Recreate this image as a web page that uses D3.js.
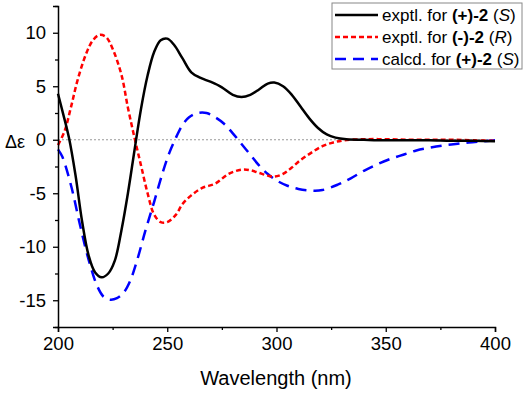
<!DOCTYPE html>
<html>
<head>
<meta charset="utf-8">
<script src="https://cdn.jsdelivr.net/npm/d3@7"></script>
<style>
  body { margin: 0; background: #fff; }
  text { font-family: Arial, "Liberation Sans", sans-serif; }
</style>
</head>
<body>
<svg id="chart" width="529" height="394"></svg>
<script>
// wavelength (nm) / delta epsilon
const exptPlusW = [200,202,205,208,211,214,217,220,223,226,229,232,235,238,241,244,247,250,253,257,261,265,270,275,280,284,288,292,296,299,303,307,311,315,319,323,327,332,340,350,360,370,380,390,400];
const exptPlusV = [4.3,2.7,0.2,-3.3,-7.6,-10.8,-12.4,-12.85,-12.5,-11.3,-8.5,-5.0,-1.0,2.9,6.0,8.2,9.3,9.45,8.9,7.6,6.3,5.8,5.4,4.9,4.2,4.0,4.2,4.7,5.25,5.35,5.0,4.2,3.1,2.0,1.1,0.5,0.2,0.05,0,-0.05,-0.05,-0.05,-0.1,-0.1,-0.15];

const exptMinusW = [200,203,206,209,213,216,219,222,225,229,232,235,238,241,244,247,250,254,257,261,266,272,278,284,288,292,296,299,303,307,311,316,321,326,331,340,350,360,370,380,390,400];
const exptMinusV = [-0.5,0.8,3.1,5.6,8.1,9.3,9.8,9.6,8.5,6.1,3.0,0.2,-2.4,-5.0,-7.0,-7.7,-7.7,-7.0,-6.0,-5.2,-4.5,-4.1,-3.2,-2.8,-2.85,-3.1,-3.35,-3.45,-3.2,-2.6,-1.9,-1.2,-0.6,-0.25,-0.05,0.05,0.05,0,0,0,-0.05,-0.1];

const calcdW = [200,202,206,210,214,218,221,224,227,230,233,236,240,244,248,251,254,257,260,264,268,272,276,280,284,288,292,296,300,305,310,316,321,328,334,340,346,352,358,364,370,376,382,388,394,400];
const calcdV = [-0.9,-1.6,-4.3,-7.9,-11.2,-13.7,-14.7,-14.95,-14.8,-14.3,-13.2,-11.4,-8.5,-5.8,-3.0,-1.2,0.2,1.4,2.1,2.5,2.5,2.1,1.5,0.6,-0.4,-1.4,-2.4,-3.2,-3.8,-4.3,-4.6,-4.75,-4.7,-4.2,-3.6,-2.9,-2.3,-1.8,-1.4,-1.0,-0.75,-0.55,-0.4,-0.25,-0.15,-0.05];

const xTicks = [200, 250, 300, 350, 400];
const xMinor = [225, 275, 325, 375];
const yTicks = [10, 5, 0, -5, -10, -15];
const yMinor = [12.5, 7.5, 2.5, -2.5, -7.5, -12.5, -17.5];

const svg = d3.select("#chart");
const x = d3.scaleLinear().domain([200, 400]).range([58, 495]);
const y = d3.scaleLinear().domain([-17.5, 12.5]).range([327, 6]);

// zero line
svg.append("line")
  .attr("x1", x(200)).attr("x2", x(400))
  .attr("y1", y(0)).attr("y2", y(0))
  .attr("stroke", "#999").attr("stroke-width", 1)
  .attr("stroke-dasharray", "2,2");

const line = d3.line()
  .x(d => x(d[0]))
  .y(d => y(d[1]))
  .curve(d3.curveCatmullRom);

const series = [
  {w: calcdW, v: calcdV, color: "#0000ff", dash: "11,7"},
  {w: exptMinusW, v: exptMinusV, color: "#ff0000", dash: "5,3"},
  {w: exptPlusW, v: exptPlusV, color: "#000", dash: null}
];

series.forEach(s => {
  svg.append("path")
    .datum(s.w.map((w, i) => [w, s.v[i]]))
    .attr("d", line)
    .attr("fill", "none")
    .attr("stroke", s.color)
    .attr("stroke-width", 2.5)
    .attr("stroke-dasharray", s.dash);
});

// axes
svg.append("g").attr("transform", `translate(0,${y(-17.5)})`)
  .call(d3.axisBottom(x).tickValues(xTicks).tickSize(5).tickPadding(5));
svg.append("g").attr("transform", `translate(0,${y(-17.5)})`)
  .call(d3.axisBottom(x).tickValues(xMinor).tickSize(3).tickFormat(""))
  .select(".domain").remove();

const yAxis = svg.append("g").attr("transform", `translate(${x(200)},0)`)
  .call(d3.axisLeft(y).tickValues(yTicks).tickSize(5).tickPadding(7));
svg.append("g").attr("transform", `translate(${x(200)},0)`)
  .call(d3.axisLeft(y).tickValues(yMinor).tickSize(3).tickFormat(""))
  .select(".domain").remove();

svg.selectAll(".domain").attr("stroke-width", 1.5);
svg.selectAll(".tick line").attr("stroke-width", 1.3);
svg.selectAll(".tick text")
  .style("font-family", "Arial, 'Liberation Sans', sans-serif")
  .style("font-size", "18.5px").attr("fill", "#000");
yAxis.selectAll(".tick text").text(d => d < 0 ? "-" + Math.abs(d) : d);

svg.append("text")
  .attr("x", 276).attr("y", 385)
  .attr("text-anchor", "middle")
  .style("font-size", "20px")
  .text("Wavelength (nm)");

svg.append("text")
  .attr("x", 5).attr("y", 148)
  .style("font-size", "18px")
  .text("Δε");

// legend
const leg = svg.append("g");
leg.append("rect")
  .attr("x", 332).attr("y", 3).attr("width", 190).attr("height", 66)
  .attr("fill", "#fff").attr("stroke", "#888").attr("stroke-width", 1);

const legendRows = [
  {color: "#000", dash: null, pre: "exptl. for ", bold: "(+)-2", conf: "S"},
  {color: "#ff0000", dash: "5,3", pre: "exptl. for ", bold: "(-)-2", conf: "R"},
  {color: "#0000ff", dash: "11,7", pre: "calcd. for ", bold: "(+)-2", conf: "S"}
];

legendRows.forEach((r, i) => {
  const cy = 15 + i * 22;
  leg.append("line")
    .attr("x1", 335).attr("x2", 378)
    .attr("y1", cy).attr("y2", cy)
    .attr("stroke", r.color).attr("stroke-width", 2.5)
    .attr("stroke-dasharray", r.dash);
  const t = leg.append("text")
    .attr("x", 382).attr("y", cy + 6)
    .style("font-size", "17px");
  t.append("tspan").text(r.pre);
  t.append("tspan").style("font-weight", "bold").text(r.bold);
  t.append("tspan").text(" (");
  t.append("tspan").style("font-style", "italic").text(r.conf);
  t.append("tspan").text(")");
});
</script>
</body>
</html>
